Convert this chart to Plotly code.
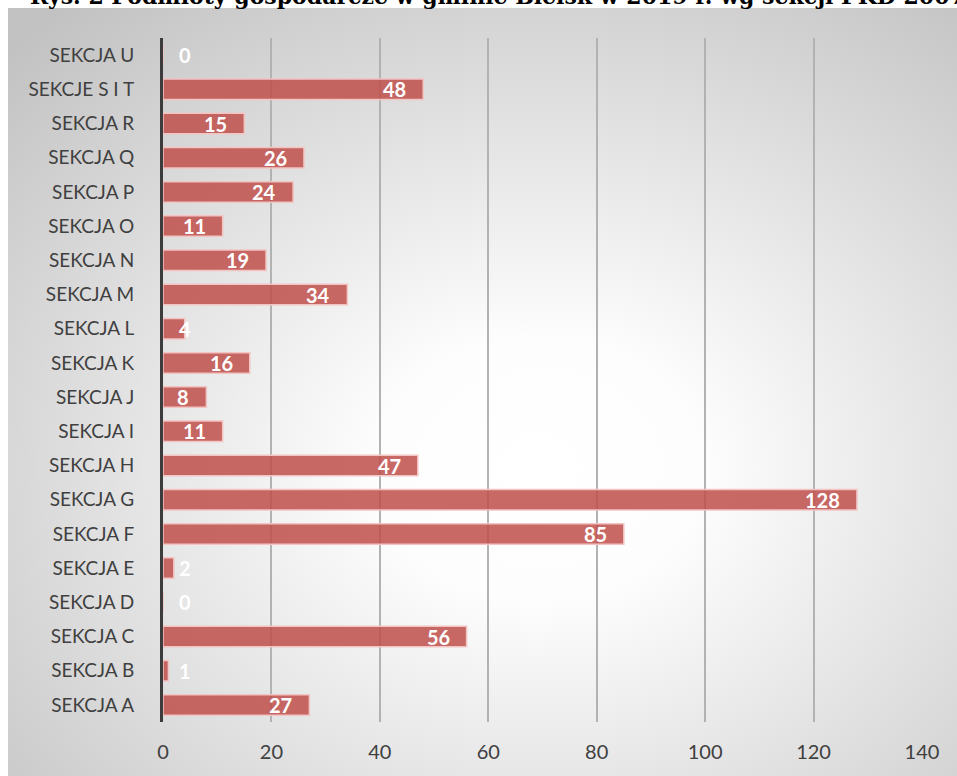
import base64
import plotly.graph_objects as go

categories = ["SEKCJA A", "SEKCJA B", "SEKCJA C", "SEKCJA D", "SEKCJA E", "SEKCJA F",
              "SEKCJA G", "SEKCJA H", "SEKCJA I", "SEKCJA J", "SEKCJA K", "SEKCJA L",
              "SEKCJA M", "SEKCJA N", "SEKCJA O", "SEKCJA P", "SEKCJA Q", "SEKCJA R",
              "SEKCJE S I T", "SEKCJA U"]
values = [27, 1, 56, 0, 2, 85, 128, 47, 11, 8, 16, 4, 34, 19, 11, 24, 26, 15, 48, 0]
x_ticks = [0, 20, 40, 60, 80, 100, 120, 140]
title_text = "Rys. 2 Podmioty gospodarcze w gminie Bielsk w 2019 r. wg sekcji PKD 2007"

W, H = 957, 776
ML, MR, MT, MB = 163, 35, 38, 54
PW, PH = W - ML - MR, H - MT - MB

svg = ('<svg xmlns="http://www.w3.org/2000/svg" width="949" height="768" viewBox="0 0 949 768">'
       '<defs><radialGradient id="g" cx="0.56" cy="0.6" r="0.78">'
       '<stop offset="0" stop-color="#ffffff"/><stop offset="0.22" stop-color="#fdfdfd"/>'
       '<stop offset="1" stop-color="#c2c2c2"/></radialGradient></defs>'
       '<rect width="949" height="768" fill="url(#g)"/></svg>')
src = "data:image/svg+xml;base64," + base64.b64encode(svg.encode()).decode()

def px_to_paper_x(px):
    return (px - ML) / PW

def px_to_paper_y(py):
    return (H - MB - py) / PH

fig = go.Figure()
fig.add_trace(go.Bar(
    x=values, y=categories, orientation="h",
    marker=dict(color="rgba(192,80,77,0.86)", line=dict(color="rgba(242,196,194,1)", width=1.5)),
    hoverinfo="x+y",
))

annotations = []
for c, v in zip(categories, values):
    if v < 5:
        annotations.append(dict(x=0, y=c, xref="x", yref="y", text=str(v), showarrow=False,
                                xanchor="left", xshift=14, yshift=0,
                                font=dict(family="Lato", size=20, color="white", weight="bold")))
    else:
        annotations.append(dict(x=v, y=c, xref="x", yref="y", text=str(v), showarrow=False,
                                xanchor="right", xshift=-15, yshift=0,
                                font=dict(family="Lato", size=20, color="white", weight="bold")))

annotations.append(dict(x=px_to_paper_x(28), y=px_to_paper_y(11), xref="paper", yref="paper",
                        text="<b>" + title_text + "</b>", showarrow=False,
                        xanchor="left", yanchor="bottom",
                        font=dict(family="DejaVu Serif", size=22, color="black")))

fig.update_layout(
    width=W, height=H,
    margin=dict(l=ML, r=MR, t=MT, b=MB, pad=0),
    paper_bgcolor="white", plot_bgcolor="rgba(0,0,0,0)",
    bargap=0.4, showlegend=False,
    annotations=annotations,
    images=[dict(source=src, xref="paper", yref="paper",
                 x=px_to_paper_x(8), y=px_to_paper_y(8),
                 sizex=(W - 8) / PW, sizey=(H - 8) / PH,
                 sizing="stretch", layer="below", xanchor="left", yanchor="top")],
    xaxis=dict(range=[0, 140], tickvals=x_ticks, showgrid=True, gridcolor="#b2b2b2", gridwidth=1.5,
               zeroline=False, showline=False, ticks="", ticklabelstandoff=16,
               tickfont=dict(family="Lato", size=20, color="#404040"), fixedrange=True),
    yaxis=dict(type="category", categoryorder="array", categoryarray=categories,
               range=[-0.5, len(categories) - 0.5], showgrid=False, zeroline=False,
               showline=True, linecolor="#3c3c3c", linewidth=3, ticks="", ticklabelstandoff=22,
               tickfont=dict(family="Lato", size=19, color="#404040"), fixedrange=True),
)

fig.write_html("out.html", config={"displayModeBar": False},
               post_script="document.body.style.margin='0';document.body.style.overflow='hidden';")
